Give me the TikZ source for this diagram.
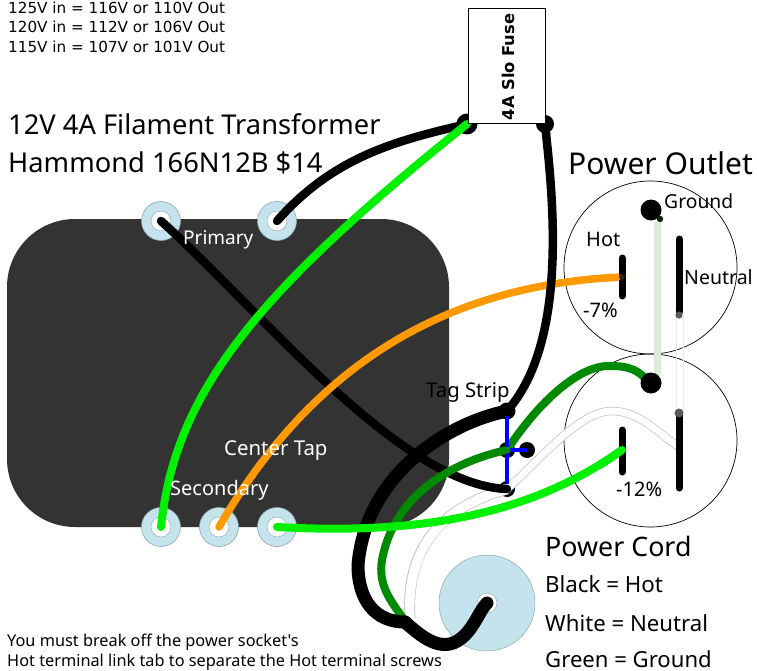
\documentclass[tikz,border=0pt]{standalone}
\usepackage{fontspec}
\setmainfont{Noto Sans}
\newfontfamily\plainfont{Noto Sans}
\newfontfamily\fusefont{DejaVu Sans Bold}
\newfontfamily\smallfont{DejaVu Sans}
\definecolor{bodyc}{HTML}{333333}
\definecolor{termc}{HTML}{C5E3EC}
\definecolor{termedge}{HTML}{8FA6AD}
\definecolor{brightg}{HTML}{00F000}
\definecolor{darkg}{HTML}{008A00}
\definecolor{orangew}{HTML}{FF9900}
\definecolor{paleg}{HTML}{D9ECD9}
\tikzset{
 terminal/.style={circle,draw=termedge,fill=termc,line width=.6pt,minimum size=39pt,inner sep=0pt},
 hole/.style={circle,fill=white,draw=termedge,line width=.4pt,minimum size=20pt,inner sep=0pt},
 dot/.style={circle,fill=black,minimum size=#1,inner sep=0pt},
 outlet/.style={circle,draw=black,line width=.7pt,minimum size=173pt,inner sep=0pt},
 blackw/.style={draw=black,line width=8.5pt,line cap=round},
 heavyw/.style={draw=black,line width=13pt,line cap=round},
 greenw/.style={draw=brightg,line width=8pt,line cap=round},
 dgreenw/.style={draw=darkg,line width=8pt,line cap=round},
 orangewire/.style={draw=orangew,line width=7.5pt,line cap=round},
 slot/.style={draw=black,line width=7pt,line cap=round},
 txt/.style={anchor=base west,inner sep=0pt,font=\fontsize{#1}{#1}\selectfont},
 wtxt/.style={txt=#1,text=white},
 toptxt/.style={anchor=base west,inner sep=0pt,font=\smallfont\fontsize{15.2}{15.2}\selectfont},
}
\begin{document}
\begin{tikzpicture}[x=1pt,y=-1pt]
\useasboundingbox (0,0) rectangle (757,671);
% transformer
\node[draw=none,fill=bodyc,rounded corners=68pt,minimum width=442pt,minimum height=308pt,inner sep=0pt] (body) at (228,373) {};
\foreach \n/\x/\y in {p1/161/221,p2/277/221,s1/161/527,s2/219/527,s3/277/527}{
  \node[terminal] (\n) at (\x,\y) {};
  \node[hole] at (\x,\y) {};
}
% outlet
\node[outlet] (o1) at (650.5,267.5) {};
\node[outlet] (o2) at (650.5,440.5) {};
\draw[draw=paleg,line width=7pt] (657,222) -- (657,375);
\draw[draw=black!8,line width=.6pt] (676,315) -- (676,412) (683,315) -- (683,412);
% lugs
\node[dot=21pt] (fa) at (467,124) {};
\node[dot=18pt] (fb) at (545,124) {};
\node[dot=17pt] (t1) at (507,411) {};
\node[dot=16pt] (t2) at (507,450) {};
\node[dot=16pt] (t3) at (507,489) {};
\node[dot=16pt] (t4) at (527,450) {};
\node[circle,fill=white,minimum size=9pt,inner sep=0pt] (t3w) at (507,489) {};
\node[inner sep=0pt] (cord) at (487,603) {};
\node[circle,draw=termedge,fill=termc,line width=.5pt,minimum size=96pt,inner sep=0pt] (disk) at (487,603) {};
\node[circle,fill=white,draw=termedge,line width=.4pt,minimum size=20pt,inner sep=0pt] at (487,603) {};
\coordinate (cj) at (405,622);
\coordinate (nj) at (679,447);
% white wires
\draw[draw=black!25,line width=11pt] (t3.center) .. controls (450,505) and (405,540) .. (410,618);
\draw[draw=white,line width=9.6pt] (t3.center) .. controls (450,505) and (405,540) .. (410,620);
\draw[draw=black!25,line width=8.4pt] (t3.center) .. controls (545,455) and (580,411) .. (612,411) .. controls (640,411) and (660,435) .. (nj);
\draw[draw=white,line width=7pt] (t3.center) .. controls (545,455) and (580,411) .. (612,411) .. controls (640,411) and (660,435) .. (nj);
% hot wires
\draw[blackw] (p2.center) .. controls (335,155) and (400,140) .. (fa.center);
\draw[blackw] (p1.center) .. controls (260,310) and (400,485) .. (t3.center);
\draw[greenw] (s1.center) .. controls (175,390) and (260,290) .. (fa.center);
\draw[orangewire] (s2.center) .. controls (310,370) and (440,285) .. (622,277);
\draw[draw=black,line width=8.5pt,line cap=round] (fb.center) .. controls (552,190) and (570,340) .. (t1.center);
% heavy cord
\draw[dgreenw] (t2.center) .. controls (460,460) and (395,490) .. (382,560) .. controls (378,585) and (390,600) .. (403,618);
\draw[heavyw] (t1.center) .. controls (440,425) and (365,480) .. (358,565) .. controls (358,600) and (375,622) .. (cj);
\draw[dgreenw] (t2.center) .. controls (540,400) and (580,365) .. (610,366) .. controls (625,366) and (635,368) .. (645,378);
\draw[greenw] (s3.center) .. controls (420,535) and (530,515) .. (622,450);
% blue strap
\draw[draw=blue,line width=3.8pt] (507,416) -- (507,484);
\draw[draw=blue,line width=3.8pt] (t2.center) -- (t4.center);
\fill[darkg] (t2.center) circle (3.5pt);
\draw[heavyw] (cj) .. controls (425,640) and (445,655) .. (465,635) .. controls (475,625) and (480,610) .. (cord.center);
% outlet parts
\node[dot=21pt] (g1) at (651,210) {};
\node[dot=21pt] (g2) at (651,383) {};
\fill[black!75!green!60!black] (660,219) circle (3.2pt);
\draw[slot] (622,258) -- (622,296);
\draw[slot] (622,430) -- (622,472);
\draw[slot] (679,239) -- (679,312);
\draw[slot] (679,413) -- (679,488);
\fill[black!65] (679,315) circle (3.6pt) (679,413) circle (4.5pt);
\draw[draw=orangew,line width=6pt,line cap=round] (600,279) -- (618,277.5);
\fill[black!80!orangew] (622,277) circle (3pt);
\draw[greenw] (600,465) -- (622,450);
% fuse
\node[draw=black,fill=white,line width=.7pt,minimum width=77pt,minimum height=115pt,inner sep=0pt] (fuse) at (506.5,65.5) {};
\node[rotate=90,inner sep=0pt,font=\fusefont\fontsize{16.3}{16.3}\selectfont] at (508,67) {4A Slo Fuse};
% texts
\node[toptxt] at (8,13.5) {125V in = 116V or 110V Out};
\node[toptxt] at (8,33) {120V in = 112V or 106V Out};
\node[toptxt] at (8,52.5) {115V in = 107V or 101V Out};
\node[txt=27.3] at (8,135) {12V 4A Filament Transformer};
\node[txt=27.3] at (8,172) {Hammond 166N12B \$14};
\node[txt=30] at (568,175) {Power Outlet};
\node[txt=19.3] at (664,208) {Ground};
\node[txt=20] at (586,246) {Hot};
\node[txt=19.5] at (684,284) {Neutral};
\node[txt=20] at (583,317) {-7\%};
\node[txt=20] at (616,496) {-12\%};
\node[wtxt=19] at (183,244) {Primary};
\node[wtxt=20.4] at (224,455) {Center Tap};
\node[wtxt=20] at (170,495) {Secondary};
\node[txt=20.3] at (426,397) {Tag Strip};
\node[txt=26.8] at (545,556) {Power Cord};
\node[txt=22.3] at (545,592) {Black = Hot};
\node[txt=22.2] at (545,631) {White = Neutral};
\node[txt=22.1] at (545,667) {Green = Ground};
\node[txt=16.3] at (7,646.5) {\plainfont You must break off the power socket's};
\node[txt=16.3] at (7,666) {Hot terminal link tab to separate the Hot terminal screws};
\end{tikzpicture}
\end{document}
